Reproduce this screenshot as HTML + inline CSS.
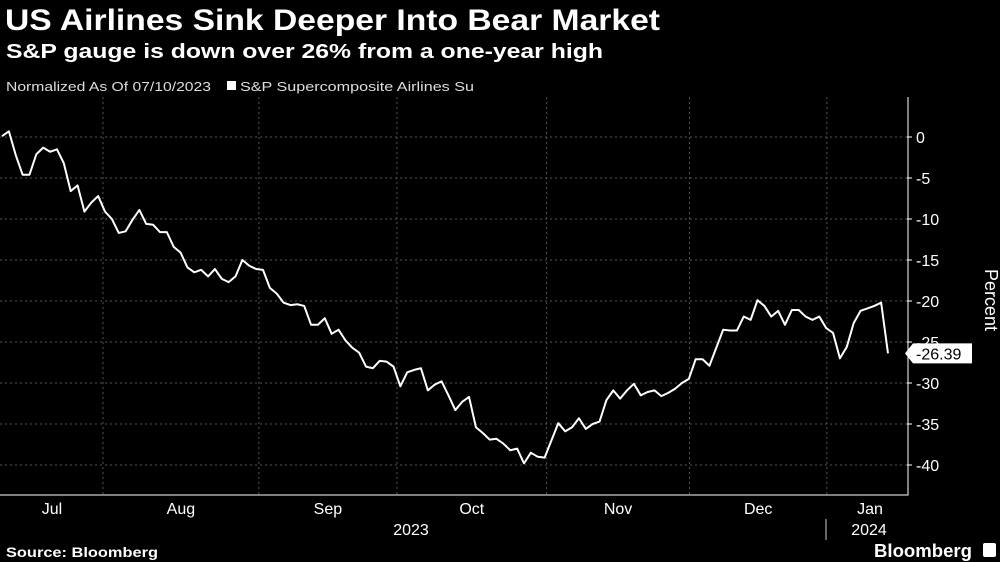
<!DOCTYPE html>
<html><head><meta charset="utf-8"><style>
body{margin:0;background:#000;width:1000px;height:562px;overflow:hidden;font-family:"Liberation Sans",sans-serif;color:#fff}
svg{position:absolute;left:0;top:0}
</style></head><body>
<svg width="1000" height="562">
<text x="5" y="30" font-size="30" font-weight="bold" fill="#fff" textLength="655" lengthAdjust="spacingAndGlyphs">US Airlines Sink Deeper Into Bear Market</text>
<text x="6" y="58" font-size="20" font-weight="bold" fill="#fff" textLength="597" lengthAdjust="spacingAndGlyphs">S&amp;P gauge is down over 26% from a one-year high</text>
<text x="6" y="91" font-size="13" fill="#ddd" textLength="205" lengthAdjust="spacingAndGlyphs">Normalized As Of 07/10/2023</text>
<rect x="227" y="81" width="9" height="9" fill="#fff"/>
<text x="240" y="91" font-size="13" fill="#ddd" textLength="234" lengthAdjust="spacingAndGlyphs">S&amp;P Supercomposite Airlines Su</text>
<g id="grid"></g><g id="axes"></g><g id="series"></g>
<text x="411" y="535" font-size="16" fill="#fff" text-anchor="middle">2023</text>
<line x1="826" y1="519" x2="826" y2="540" stroke="#ccc"/>
<text x="869" y="535" font-size="16" fill="#fff" text-anchor="middle">2024</text>
<text x="985" y="300" font-size="18" fill="#fff" text-anchor="middle" transform="rotate(90 985 300)">Percent</text>
<text x="6" y="557" font-size="14" font-weight="bold" fill="#fff" textLength="152" lengthAdjust="spacingAndGlyphs">Source: Bloomberg</text>
<text x="972" y="557" font-size="18" font-weight="bold" fill="#fff" text-anchor="end" textLength="98" lengthAdjust="spacingAndGlyphs">Bloomberg</text>
<rect x="983" y="543" width="13" height="14" rx="2" fill="#fff"/>
</svg>
<script>
const values=[0.1,0.7,-2.2,-4.6,-4.6,-2.1,-1.3,-1.8,-1.5,-3.2,-6.6,-5.9,-9.1,-8.0,-7.2,-9.1,-10,-11.7,-11.5,-10.1,-8.9,-10.6,-10.7,-11.6,-11.6,-13.4,-14.1,-15.9,-16.5,-16.2,-17,-16.1,-17.3,-17.7,-17,-15,-15.7,-16.1,-16.2,-18.4,-19.1,-20.2,-20.5,-20.4,-20.6,-22.9,-22.9,-22.1,-24,-23.5,-24.8,-25.7,-26.3,-28,-28.2,-27.3,-27.4,-28,-30.4,-28.7,-28.4,-28.2,-30.9,-30.2,-29.8,-31.5,-33.3,-32.3,-31.7,-35.4,-36.1,-36.9,-36.8,-37.4,-38.2,-38,-39.8,-38.5,-39,-39.1,-37,-34.9,-35.9,-35.4,-34.3,-35.6,-35,-34.7,-32.1,-30.9,-31.9,-30.9,-30.1,-31.5,-31.1,-30.9,-31.6,-31.2,-30.7,-30,-29.5,-27.1,-27.1,-27.9,-25.7,-23.5,-23.6,-23.6,-21.9,-22.3,-19.9,-20.6,-21.9,-21.2,-22.9,-21.1,-21.1,-21.9,-22.3,-21.9,-23.3,-23.9,-27,-25.6,-22.7,-21.2,-20.9,-20.6,-20.2,-26.39];
const yTicks=[0,-5,-10,-15,-20,-25,-30,-35,-40];
const monthLabels=["Jul","Aug","Sep","Oct","Nov","Dec","Jan"];
const monthStarts=[-2,14.7,37.4,57.5,79.3,100.1,120.1]; // fractional point index where each month begins
const lastLabel="-26.39";
const NS="http://www.w3.org/2000/svg";
const n=values.length;
const xS=i=>2+i*(886/(n-1));
const yS=v=>137-8.2*v;
const mk=(t,a,p)=>{const e=document.createElementNS(NS,t);for(const k in a)e.setAttribute(k,a[k]);document.getElementById(p).appendChild(e);return e;};
yTicks.forEach(t=>{
 const g=mk('line',{x1:0,x2:907,y1:yS(t),y2:yS(t),stroke:'#555','stroke-dasharray':'2,3'},'grid');
 
 
 const tk=mk('line',{x1:907,x2:912,y1:yS(t),y2:yS(t),stroke:'#fff'},'axes');
 
 
 const tx=mk('text',{x:916,y:yS(t)+6,'font-size':16,fill:'#fff'},'axes');
 tx.textContent=t===0?'0':String(t);
 
 
});
monthStarts.forEach((m,i)=>{
 if(i>0){const g=mk('line',{x1:xS(m),x2:xS(m),y1:97,y2:495,stroke:'#555','stroke-dasharray':'2,3'},'grid');
 
 }
 const next=i<monthStarts.length-1?monthStarts[i+1]:127;
 const cx=i===0?52:(i===6?870:(xS(m)+xS(next))/2);
 const tx=mk('text',{x:cx,y:514,'font-size':16,fill:'#fff','text-anchor':'middle'},'axes');
 tx.textContent=monthLabels[i];
 
 
});
const ax=mk('polyline',{points:'0,495 908,495 908,97',fill:'none',stroke:'#fff'},'axes');


const line=mk('polyline',{points:values.map((v,i)=>xS(i)+','+yS(v)).join(' '),fill:'none',stroke:'#fff','stroke-width':2,'stroke-linejoin':'round'},'series');


const ly=yS(values[n-1]);
const lb=mk('polygon',{points:`905,${ly} 913,${ly-10} 972,${ly-10} 972,${ly+10} 913,${ly+10}`,fill:'#fff'},'series');


const lt=mk('text',{x:916,y:ly+6,'font-size':16,fill:'#000'},'series');
lt.textContent=lastLabel;


</script>
</body></html>
